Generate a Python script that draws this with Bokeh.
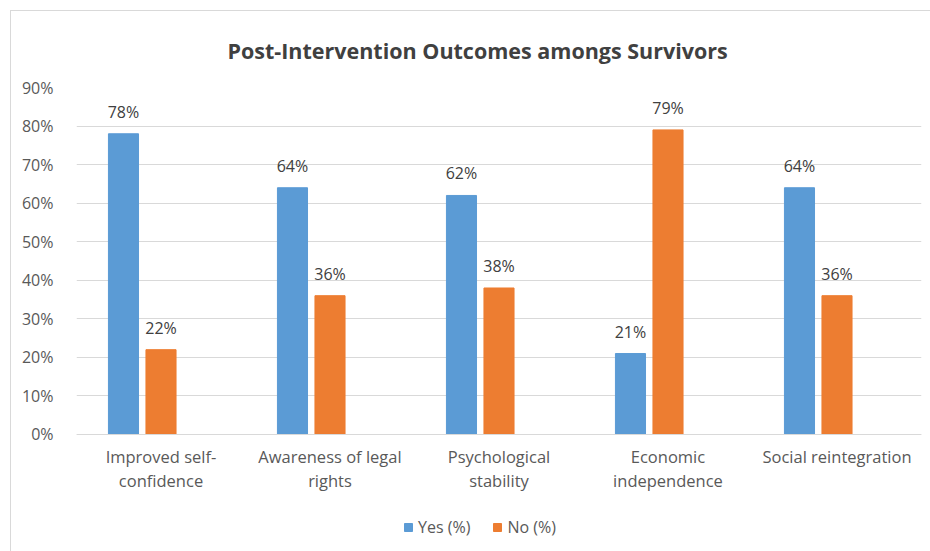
from bokeh.plotting import figure
from bokeh.models import (ColumnDataSource, Range1d, FixedTicker, PrintfTickFormatter,
                          LabelSet, Title, Legend, LegendItem, LinearAxis)
from bokeh.transform import dodge
from bokeh.core.properties import value
from bokeh.embed import file_html
from bokeh.resources import INLINE

title = "Post-Intervention Outcomes amongs Survivors"
categories = ["Improved self-confidence", "Awareness of legal rights", "Psychological stability",
              "Economic independence", "Social reintegration"]
tick_line1 = ["Improved self-", "Awareness of legal", "Psychological", "Economic", "Social reintegration"]
tick_line2 = ["confidence", "rights", "stability", "independence", ""]
yes_pct = [78, 64, 62, 21, 64]
no_pct = [22, 36, 38, 79, 36]
y_ticks = [0, 10, 20, 30, 40, 50, 60, 70, 80, 90]

FONT = "Open Sans"
GREY = "#595959"

n = len(categories)
centers = [i + 0.5 for i in range(n)]  # slot centres on a numeric axis, one slot per category

src = ColumnDataSource(dict(
    pos=centers, cat=categories, yes=yes_pct, no=no_pct,
    yes_lbl=[f"{v}%" for v in yes_pct], no_lbl=[f"{v}%" for v in no_pct],
))

# The frame reaches below 0 % so that the category labels and the legend sit inside it.
p = figure(x_range=Range1d(0, n), y_range=Range1d(-29.05, 90),
           frame_width=845, frame_height=459, output_backend="svg", toolbar_location=None,
           min_border_left=65, min_border_right=10, min_border_top=76, min_border_bottom=6)
p.margin = (10, 0, 0, 10)
p.styles = {"border-left": "1px solid #d9d9d9", "border-top": "1px solid #d9d9d9"}
p.outline_line_color = None
p.background_fill_color = "white"
p.border_fill_color = "white"

bw = 0.178
off_yes = -0.222
r_yes = p.vbar(x=dodge("pos", off_yes), top="yes", width=bw, source=src,
               fill_color="#5B9BD5", line_color="#5B9BD5")
r_no = p.vbar(x="pos", top="no", width=bw, source=src,
              fill_color="#ED7D31", line_color="#ED7D31")

p.add_layout(LabelSet(x=dodge("pos", off_yes), y="yes", text="yes_lbl", source=src,
                      text_align="center", text_baseline="bottom", y_offset=11,
                      text_font=value(FONT), text_font_size="16px", text_color="#404040"))
p.add_layout(LabelSet(x="pos", y="no", text="no_lbl", source=src,
                      text_align="center", text_baseline="bottom", y_offset=11,
                      text_font=value(FONT), text_font_size="16px", text_color="#404040"))

p.yaxis.ticker = FixedTicker(ticks=y_ticks, minor_ticks=[])
p.yaxis.formatter = PrintfTickFormatter(format="%d%%")
p.ygrid.ticker = FixedTicker(ticks=y_ticks, minor_ticks=[])
p.ygrid.grid_line_color = "#d9d9d9"
p.xgrid.grid_line_color = None

ax1 = p.xaxis[0]
ax2 = LinearAxis()
p.add_layout(ax2, "below")

for ax in (ax1, p.yaxis[0], ax2):
    ax.major_tick_line_color = None
    ax.minor_tick_line_color = None
    ax.major_label_text_font = FONT
    ax.major_label_text_color = GREY
p.yaxis.major_label_text_font_size = "16px"
for ax, lines in ((ax1, tick_line1), (ax2, tick_line2)):
    ax.ticker = FixedTicker(ticks=centers, minor_ticks=[])
    ax.major_label_overrides = {c: t for c, t in zip(centers, lines)}
    ax.major_label_text_font_size = "16.5px"
    ax.fixed_location = 0
p.yaxis.axis_line_color = None
p.yaxis.major_label_standoff = 17
ax1.axis_line_color = "#d9d9d9"
ax1.major_label_standoff = 5
ax2.axis_line_color = None
ax2.major_label_standoff = 29

p.add_layout(Title(text=title, align="left", offset=151, standoff=45, text_font=FONT,
                   text_font_size="21.5px", text_font_style="bold", text_color="#404040"), "above")

legend = Legend(items=[LegendItem(label="Yes (%)", renderers=[r_yes]),
                       LegendItem(label="No (%)", renderers=[r_no])],
                location=(327, 8), orientation="horizontal",
                glyph_width=10, glyph_height=10, label_standoff=5, spacing=22,
                padding=0, margin=0, border_line_color=None, background_fill_alpha=0,
                label_text_font=FONT, label_text_font_size="16px", label_text_color=GREY)
p.add_layout(legend, "center")

open("out.html", "w").write(file_html(p, INLINE))
